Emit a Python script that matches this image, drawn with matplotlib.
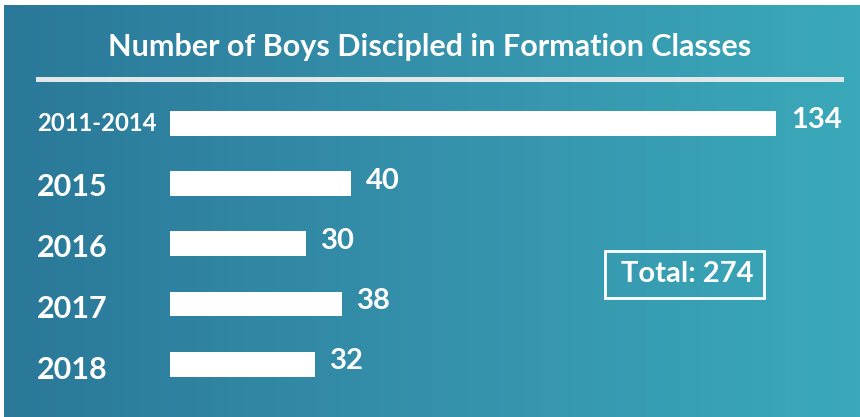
import matplotlib
matplotlib.use("Agg")
import matplotlib.pyplot as plt
import numpy as np
from matplotlib.colors import LinearSegmentedColormap
from matplotlib.patches import Rectangle

# data
categories = ["2011-2014", "2015", "2016", "2017", "2018"]
boys = [134, 40, 30, 38, 32]
total = sum(boys)
title = "Number of Boys Discipled in Formation Classes"

W, H = 860, 417
plt.rcParams["font.family"] = ["Lato", "DejaVu Sans"]

fig = plt.figure(figsize=(W / 100, H / 100), dpi=100, facecolor="white")


def fx(px):
    return px / W


def fy(py):
    return 1 - py / H


# gradient background panel
bg = fig.add_axes([fx(4), 0, 1 - fx(4), fy(5)])
bg.set_axis_off()
cmap = LinearSegmentedColormap.from_list("bg", ["#2a7899", "#3591ab", "#3aa9b9"])
bg.imshow(np.linspace(0, 1, 256)[None, :], aspect="auto", cmap=cmap,
          extent=[0, 1, 0, 1])
bg.set_xlim(0, 1)
bg.set_ylim(0, 1)

# title and rule
fig.text(fx(430), fy(47), title, ha="center", va="center", color="white",
         fontsize=22, fontweight="bold")
fig.add_artist(Rectangle((fx(36), fy(81.5)), fx(844 - 36), 4 / H,
                         transform=fig.transFigure, facecolor="#e2e8ea",
                         edgecolor="none"))

# bars
ax_top, ax_bot = 93.2, 394.4
ax = fig.add_axes([fx(170), fy(ax_bot), 1 - fx(170), (ax_bot - ax_top) / H])
ax.set_axis_off()
px_per_unit = 4.52
ax.set_xlim(0, (W - 170) / px_per_unit)
ax.set_ylim(len(categories) - 0.5, -0.5)
y = np.arange(len(categories))
ax.barh(y, boys, height=0.41, color="white")

for yi, cat, v in zip(y, categories, boys):
    small = len(cat) > 4
    ax.annotate(cat, xy=(0, yi), xytext=(-133, 0 if small else -2 - yi),
                textcoords="offset pixels", ha="left", va="center",
                color="white", fontweight="bold",
                fontsize=17.2 if small else 22)
    ax.annotate(str(v), xy=(v, yi), xytext=(15, 3),
                textcoords="offset pixels", ha="left", va="center",
                color="white", fontweight="bold", fontsize=21)

# total box
fig.text(fx(687), fy(274.5), f"Total: {total}", ha="center", va="center",
         color="white", fontsize=21, fontweight="bold")
fig.add_artist(Rectangle((fx(605), fy(298)), fx(764 - 605), 47 / H,
                         transform=fig.transFigure, facecolor="none",
                         edgecolor="white", linewidth=2))

fig.savefig("out.png", dpi=100)
